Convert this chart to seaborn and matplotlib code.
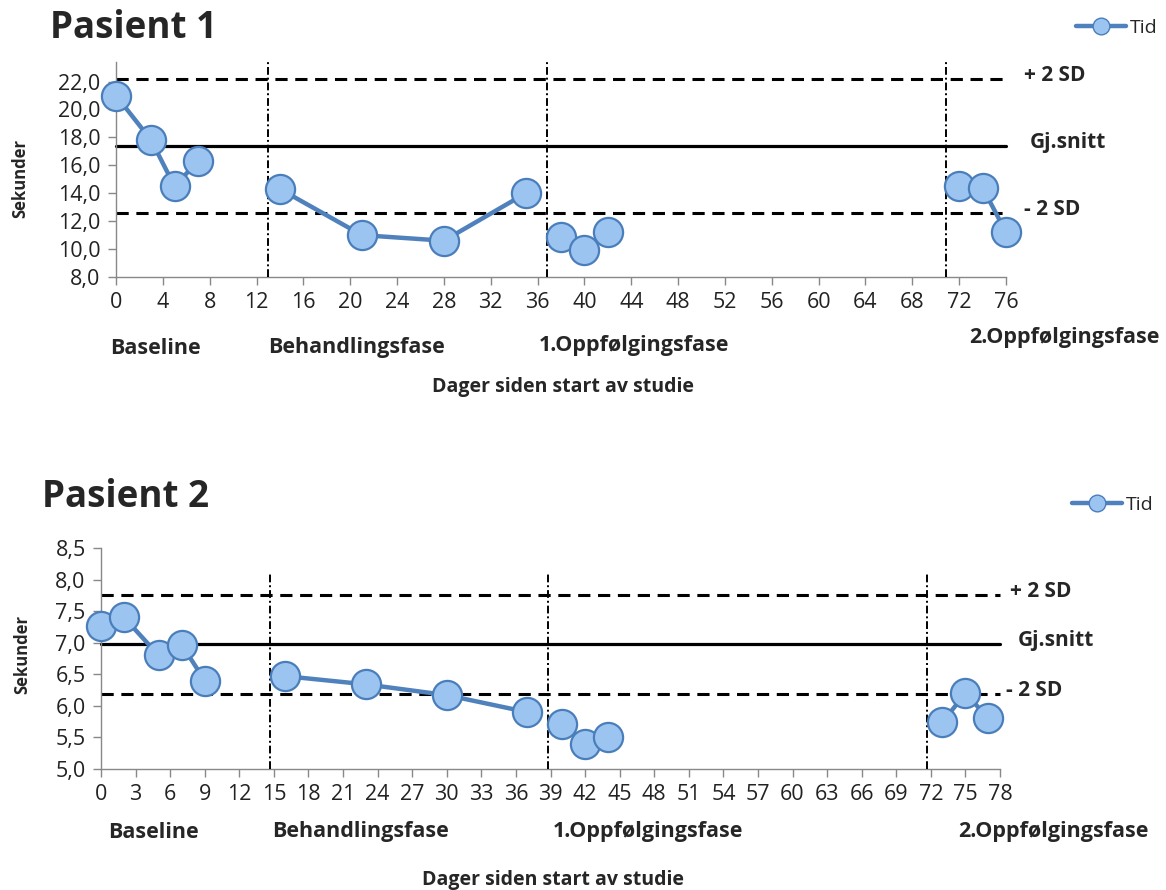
import matplotlib
matplotlib.use("Agg")
import matplotlib.pyplot as plt
import seaborn as sns
import pandas as pd
from matplotlib.lines import Line2D

# ---------------- data ----------------
p1_days = [0, 3, 5, 7, 14, 21, 28, 35, 38, 40, 42, 72, 74, 76]
p1_secs = [21.0, 17.8, 14.5, 16.3, 14.3, 11.0, 10.6, 14.0, 10.9, 9.9, 11.2, 14.5, 14.4, 11.2]
p1_phase = [1, 1, 1, 1, 2, 2, 2, 2, 3, 3, 3, 4, 4, 4]
p1_mean, p1_plus, p1_minus = 17.4, 22.2, 12.6
p1_dividers = [13.0, 36.8, 70.9]
p1_xticks = list(range(0, 77, 4))
p1_yticks = [8, 10, 12, 14, 16, 18, 20, 22]

p2_days = [0, 2, 5, 7, 9, 16, 23, 30, 37, 40, 42, 44, 73, 75, 77]
p2_secs = [7.27, 7.40, 6.80, 6.97, 6.40, 6.47, 6.34, 6.17, 5.90, 5.72, 5.40, 5.50, 5.74, 6.20, 5.80]
p2_phase = [1, 1, 1, 1, 1, 2, 2, 2, 2, 3, 3, 3, 4, 4, 4]
p2_mean, p2_plus, p2_minus = 6.98, 7.76, 6.18
p2_dividers = [14.7, 38.8, 71.7]
p2_xticks = list(range(0, 79, 3))
p2_yticks = [5.0, 5.5, 6.0, 6.5, 7.0, 7.5, 8.0, 8.5]

phase_names = ["Baseline", "Behandlingsfase", "1.Oppfølgingsfase", "2.Oppfølgingsfase"]
titles = ["Pasient 1", "Pasient 2"]
xlabel = "Dager siden start av studie"
ylabel = "Sekunder"
legend_label = "Tid"

# ---------------- style ----------------
sns.set_theme(style="white")
plt.rcParams['font.family'] = ['Open Sans', 'DejaVu Sans']

W, H = 1166, 890
fig = plt.figure(figsize=(W / 100, H / 100), dpi=100)

LINE_C = "#4f81bd"
FACE_C = "#9cc4f0"
EDGE_C = "#4a7ebb"

def fx(px):
    return px / W

def fy(py):
    return 1 - py / H

def draw_panel(ax_box, days, secs, phase, mean, plus, minus, dividers, xticks, yticks,
               xlim, ylim, div_top, title, title_xy, phase_pos, xlabel_xy, ylabel_xy,
               sd_x, legend_xy, fmt):
    l, t, r, b = ax_box
    ax = fig.add_axes([fx(l), fy(b), fx(r) - fx(l), fy(t) - fy(b)])
    df = pd.DataFrame({"day": days, "sec": secs, "phase": phase})
    sns.lineplot(data=df, x="day", y="sec", units="phase", estimator=None, ax=ax,
                 color=LINE_C, lw=3.2, marker="o", markersize=21,
                 markerfacecolor=FACE_C, markeredgecolor=EDGE_C, markeredgewidth=1.6,
                 zorder=5, legend=False, clip_on=False)
    ax.set_xlim(*xlim)
    ax.set_ylim(*ylim)
    ax.axhline(mean, color="black", lw=2.3, zorder=2, clip_on=False)
    ax.axhline(plus, color="black", lw=2.2, ls=(0, (4, 2.5)), zorder=2, clip_on=False)
    ax.axhline(minus, color="black", lw=2.2, ls=(0, (4, 2.5)), zorder=2, clip_on=False)
    for d in dividers:
        ax.axvline(d, ymin=0, ymax=div_top, color="black", lw=1.4,
                   ls=(0, (4, 1.5, 1, 1.5)), zorder=3)
    ax.set_xticks(xticks)
    ax.set_yticks(yticks)
    ax.set_yticklabels([fmt(v) for v in yticks], fontsize=15.5, color="#222222")
    ax.set_xticklabels([str(v) for v in xticks], fontsize=15.5, color="#222222")
    ax.tick_params(axis="both", which="both", direction="out", length=6, width=1,
                   color="#888888", bottom=True, left=True, pad=5)
    for s in ["top", "right"]:
        ax.spines[s].set_visible(False)
    for s in ["left", "bottom"]:
        ax.spines[s].set_color("#888888")
        ax.spines[s].set_linewidth(1)
    ax.set_xlabel("")
    ax.set_ylabel("")
    # side labels
    for val, txt in [(plus, "+ 2 SD"), (mean, "Gj.snitt"), (minus, "- 2 SD")]:
        yp = ax.transData.transform((0, val))[1]
        fig.text(fx(sd_x[txt]), yp / fig.dpi / fig.get_figheight() + 0.004, txt,
                 fontsize=15, fontweight="bold", ha="left", va="center")
    # title
    fig.text(fx(title_xy[0]), fy(title_xy[1]), title, fontsize=26.5, fontweight="bold",
             ha="left", va="center")
    # phase labels
    for (px, py), name in zip(phase_pos, phase_names):
        fig.text(fx(px), fy(py), name, fontsize=15.5, fontweight="bold",
                 ha="left", va="center")
    fig.text(fx(xlabel_xy[0]), fy(xlabel_xy[1]), xlabel, fontsize=14, fontweight="bold",
             ha="center", va="center")
    fig.text(fx(ylabel_xy[0]), fy(ylabel_xy[1]), ylabel, fontsize=12, fontweight="bold",
             ha="center", va="center", rotation=90)
    # legend
    handle = Line2D([0], [0], color=LINE_C, lw=3.2, marker="o", markersize=12,
                    markerfacecolor=FACE_C, markeredgecolor=EDGE_C)
    fig.legend([handle], [legend_label], loc="center left",
               bbox_to_anchor=(fx(legend_xy[0]), fy(legend_xy[1])), frameon=False,
               fontsize=14, handlelength=2.6, handletextpad=0.2, borderpad=0)
    return ax

fmt1 = lambda v: f"{v:.1f}".replace(".", ",")

draw_panel((116, 62, 1006, 277), p1_days, p1_secs, p1_phase, p1_mean, p1_plus, p1_minus,
           p1_dividers, p1_xticks, p1_yticks, (0, 76), (8, 23.4), 1.0,
           titles[0], (50, 28),
           [(110, 348), (268, 348), (539, 345), (969, 338)], (563, 387), (20, 178),
           {"+ 2 SD": 1024, "Gj.snitt": 1030, "- 2 SD": 1024}, (1066, 28), fmt1)

draw_panel((101, 548, 1000, 769), p2_days, p2_secs, p2_phase, p2_mean, p2_plus, p2_minus,
           p2_dividers, p2_xticks, p2_yticks, (0, 78), (5.0, 8.5), 0.89,
           titles[1], (42, 497),
           [(108, 832), (272, 832), (553, 832), (958, 832)], (553, 880), (22, 655),
           {"+ 2 SD": 1010, "Gj.snitt": 1018, "- 2 SD": 1006}, (1062, 505), fmt1)

fig.savefig("out.png", dpi=100)
